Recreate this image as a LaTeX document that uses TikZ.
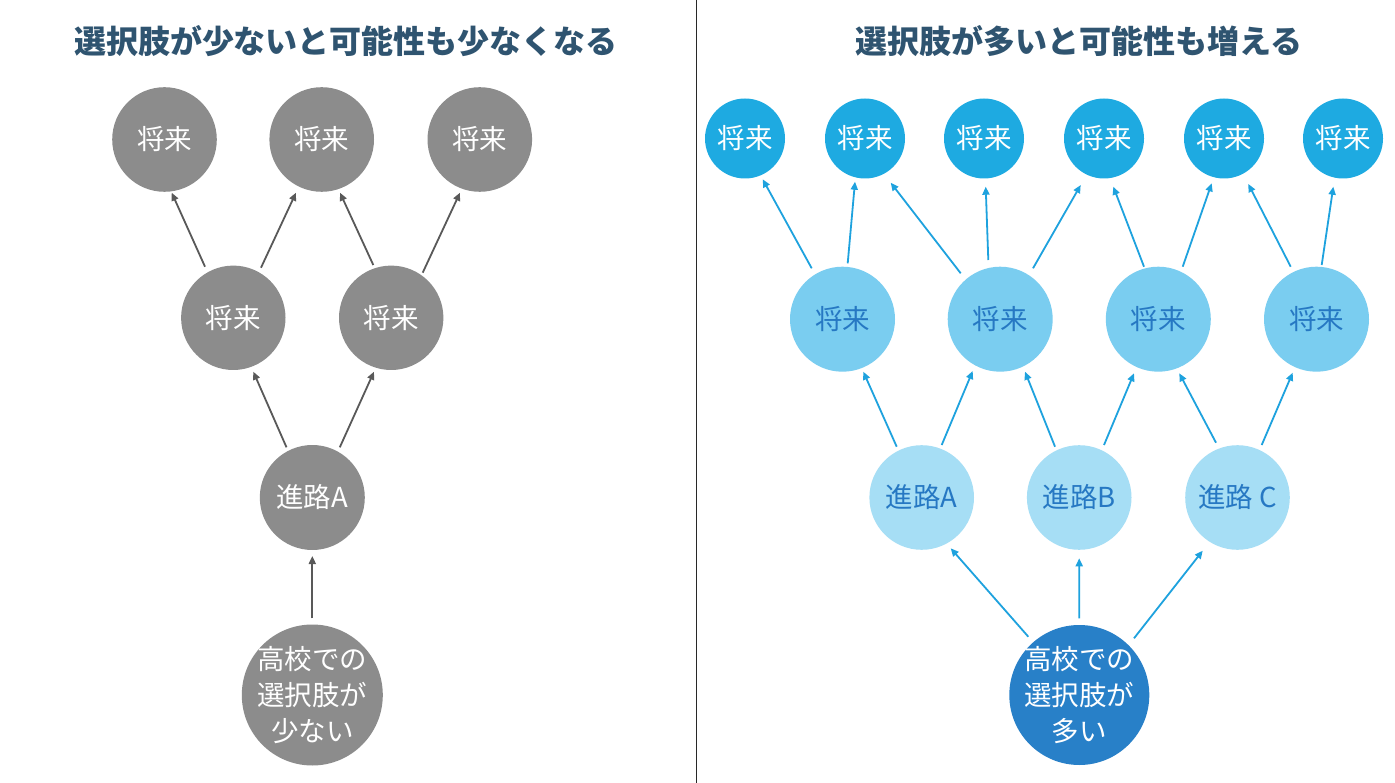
\documentclass[tikz,border=0pt]{standalone}
\usepackage{fontspec}
\newfontfamily\jp{Noto Sans CJK JP}
\usetikzlibrary{arrows.meta}
\definecolor{titlec}{RGB}{47,84,112}
\definecolor{grayc}{RGB}{140,140,140}
\definecolor{grayarr}{RGB}{89,89,89}
\definecolor{topblue}{RGB}{30,170,225}
\definecolor{midblue}{RGB}{122,205,240}
\definecolor{pathblue}{RGB}{166,222,245}
\definecolor{basblue}{RGB}{40,128,200}
\definecolor{txtblue}{RGB}{38,120,195}
\definecolor{arrblue}{RGB}{30,162,222}
\definecolor{divc}{RGB}{40,40,40}
\tikzset{
  circ/.style={circle, inner sep=0pt, font=\jp\fontsize{27.5}{36}\selectfont, align=center},
  gcirc/.style={circ, fill=grayc, text=white},
  tcirc/.style={circ, fill=topblue, text=white},
  mcirc/.style={circ, fill=midblue, text=txtblue},
  pcirc/.style={circ, fill=pathblue, text=txtblue},
  bcirc/.style={circ, fill=basblue, text=white},
  tight/.style={inner sep=-14pt},
  ttl/.style={font=\jp\bfseries\fontsize{32}{38}\selectfont, text=titlec, inner sep=0pt},
  garr/.style={draw=grayarr, line width=1.8pt, -{Triangle[length=8pt,width=7pt]}},
  barr/.style={draw=arrblue, line width=1.8pt, -{Triangle[length=8pt,width=7pt]}}
}
\begin{document}
\begin{tikzpicture}[x=1pt,y=-1pt]
\useasboundingbox (0,0) rectangle (1395,783);
\fill[white] (0,0) rectangle (1395,783);
\draw[divc, line width=1pt] (696,0) -- (696,783);

% titles
\node[ttl] (tl) at (346,41) {選択肢が少ないと可能性も少なくなる};
\node[ttl] (tr) at (1079,41) {選択肢が多いと可能性も増える};

% left side
\node[gcirc, minimum size=104.6pt] (t1) at (164.5,139.5) {将来};
\node[gcirc, minimum size=104.6pt] (t2) at (321.7,139.5) {将来};
\node[gcirc, minimum size=104.6pt] (t3) at (479.8,139.5) {将来};
\node[gcirc, minimum size=104.4pt] (m1) at (233.3,317.8) {将来};
\node[gcirc, minimum size=104.4pt] (m2) at (391.2,317.8) {将来};
\node[gcirc, minimum size=105pt] (a) at (312.3,497.5) {進路A};
\node[gcirc, tight, minimum size=141pt] (b) at (312.3,695) {高校での\\選択肢が\\少ない};

\draw[garr] ([shift={(-28.3,-51.1)}]m1.center) -- ([shift={(7.2,53.2)}]t1.center);
\draw[garr] ([shift={(27.7,-50.1)}]m1.center) -- ([shift={(-25.7,53.2)}]t2.center);
\draw[garr] ([shift={(-17.9,-52.8)}]m2.center) -- ([shift={(18.3,53.2)}]t2.center);
\draw[garr] ([shift={(31.5,-45.1)}]m2.center) -- ([shift={(-19.8,53.2)}]t3.center);
\draw[garr] ([shift={(-25.8,-50.2)}]a.center) -- ([shift={(20,53.9)}]m1.center);
\draw[garr] ([shift={(27.5,-50.2)}]a.center) -- ([shift={(-17.2,53.9)}]m2.center);
\draw[garr] ([shift={(0,-76.7)}]b.center) -- ([shift={(0,58.5)}]a.center);

% right side
\node[tcirc, minimum size=80pt] (T1) at (745,138.5) {将来};
\node[tcirc, minimum size=80pt] (T2) at (865,138.5) {将来};
\node[tcirc, minimum size=80pt] (T3) at (984,138.5) {将来};
\node[tcirc, minimum size=80pt] (T4) at (1104,138.5) {将来};
\node[tcirc, minimum size=80pt] (T5) at (1224,138.5) {将来};
\node[tcirc, minimum size=80pt] (T6) at (1343,138.5) {将来};
\node[mcirc, minimum size=105pt] (M1) at (842.5,319.2) {将来};
\node[mcirc, minimum size=105pt] (M2) at (1000.2,319.2) {将来};
\node[mcirc, minimum size=105pt] (M3) at (1158.3,319.2) {将来};
\node[mcirc, minimum size=105pt] (M4) at (1316.5,319.2) {将来};
\node[pcirc, minimum size=104.6pt] (P1) at (921.7,497.5) {進路A};
\node[pcirc, minimum size=104.6pt] (P2) at (1079.2,497.5) {進路B};
\node[pcirc, minimum size=104.6pt] (P3) at (1237.5,497.5) {進路 C};
\node[bcirc, tight, minimum size=140pt] (B) at (1079.3,695) {高校での\\選択肢が\\多い};

\draw[barr] ([shift={(-30.8,-50.9)}]M1.center) -- ([shift={(17.7,40.8)}]T1.center);
\draw[barr] ([shift={(5.2,-55.9)}]M1.center) -- ([shift={(-10,43.2)}]T2.center);
\draw[barr] ([shift={(-39.5,-45.9)}]M2.center) -- ([shift={(25.7,44.2)}]T2.center);
\draw[barr] ([shift={(-11.9,-59.2)}]M2.center) -- ([shift={(1.7,48.2)}]T3.center);
\draw[barr] ([shift={(32.8,-50.9)}]M2.center) -- ([shift={(-23.3,46.5)}]T4.center);
\draw[barr] ([shift={(-14.3,-52.5)}]M3.center) -- ([shift={(9.3,48.2)}]T4.center);
\draw[barr] ([shift={(24.4,-52.5)}]M3.center) -- ([shift={(-12.3,44.8)}]T5.center);
\draw[barr] ([shift={(-25.8,-52.5)}]M4.center) -- ([shift={(24.3,45.5)}]T5.center);
\draw[barr] ([shift={(5.2,-54.2)}]M4.center) -- ([shift={(-9.7,48.2)}]T6.center);

\draw[barr] ([shift={(-25,-50.8)}]P1.center) -- ([shift={(20.8,52.5)}]M1.center);
\draw[barr] ([shift={(20,-52.5)}]P1.center) -- ([shift={(-27.5,51.8)}]M2.center);
\draw[barr] ([shift={(-24.2,-50.8)}]P2.center) -- ([shift={(24.8,52.5)}]M2.center);
\draw[barr] ([shift={(24.8,-52.5)}]P2.center) -- ([shift={(-24.3,54.1)}]M3.center);
\draw[barr] ([shift={(-21.5,-54.8)}]P3.center) -- ([shift={(21,54.1)}]M3.center);
\draw[barr] ([shift={(24.2,-52.5)}]P3.center) -- ([shift={(-23.8,53.5)}]M4.center);

\draw[barr] ([shift={(-51,-58.3)}]B.center) -- ([shift={(29,50.8)}]P1.center);
\draw[barr] ([shift={(0,-76.7)}]B.center) -- ([shift={(0,60.8)}]P2.center);
\draw[barr] ([shift={(54.7,-56.7)}]B.center) -- ([shift={(-34.8,53.2)}]P3.center);
\end{tikzpicture}
\end{document}
